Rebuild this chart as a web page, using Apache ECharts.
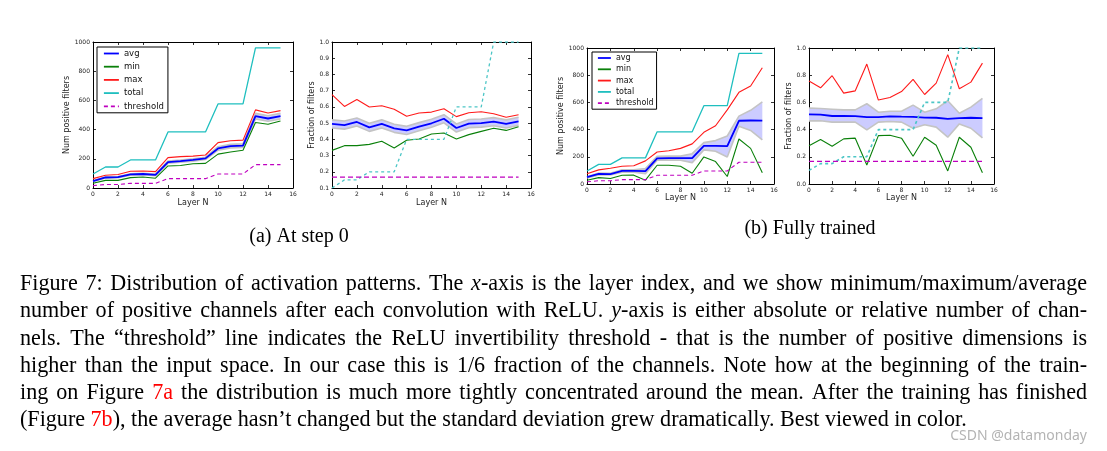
<!DOCTYPE html>
<html><head><meta charset="utf-8">
<script src="https://cdn.jsdelivr.net/npm/echarts@6/dist/echarts.min.js"></script>
<style>html,body{margin:0;padding:0;background:#fff;}#c{width:1107px;height:451px;}</style>
</head><body><div id="c"></div>
<script>
// ---------------- data ----------------
const layers = [0,1,2,3,4,5,6,7,8,9,10,11,12,13,14,15];
const legendNames = ['avg','min','max','total','threshold'];

// (a) at step 0, absolute
const aTotal  = [96,144,144,192,192,192,384,384,384,384,576,576,576,960,960,960];
const aThresh = [16,24,24,32,32,32,64,64,64,64,96,96,96,160,160,160];
const aAvg    = [47,72,74,93,96,90,177,184,192,203,271,287,290,492,476,492];
const aAvgLo  = [44,68,70,88,91,85,169,176,184,195,259,275,278,473,457,473];
const aAvgHi  = [50,76,78,98,101,95,185,192,200,211,283,299,302,511,495,511];
const aMin    = [32,52,52,71,75,67,151,154,166,169,232,247,259,449,437,459];
const aMax    = [64,87,92,115,116,112,208,215,218,226,311,324,328,535,514,530];

// (a) at step 0, fraction
const aFracAvg   = [0.495,0.488,0.507,0.474,0.495,0.468,0.455,0.478,0.499,0.527,0.470,0.497,0.500,0.509,0.495,0.511];
const aFracLo    = [0.470,0.463,0.482,0.449,0.470,0.443,0.430,0.453,0.474,0.502,0.445,0.472,0.475,0.484,0.470,0.486];
const aFracHi    = [0.520,0.513,0.532,0.499,0.520,0.493,0.480,0.503,0.524,0.552,0.495,0.522,0.525,0.534,0.520,0.536];
const aFracMax   = [0.675,0.603,0.645,0.599,0.607,0.585,0.542,0.562,0.568,0.589,0.540,0.564,0.570,0.558,0.536,0.552];
const aFracMin   = [0.332,0.361,0.361,0.369,0.388,0.347,0.394,0.402,0.433,0.439,0.402,0.429,0.449,0.468,0.455,0.478];
const aFracTotal = [0.10,0.15,0.15,0.20,0.20,0.20,0.40,0.40,0.40,0.40,0.60,0.60,0.60,1.00,1.00,1.00];
const aFracThr   = [0.167,0.167,0.167,0.167,0.167,0.167,0.167,0.167,0.167,0.167,0.167,0.167,0.167,0.167,0.167,0.167];

// (b) fully trained, absolute
const bTotal  = [96,144,144,192,192,192,384,384,384,384,576,576,576,960,960,960];
const bThresh = [16,24,24,32,32,32,64,64,64,64,96,96,96,160,160,160];
const bAvg    = [50,74,73,96,96,94,189,190,190,190,280,280,278,465,467,466];
const bAvgLo  = [45,67,66,87,87,76,175,177,175,157,251,241,198,424,394,325];
const bAvgHi  = [54,80,79,105,105,113,203,205,205,223,304,319,353,499,542,604];
const bMax    = [76,104,116,130,134,170,235,245,262,295,380,428,545,674,721,855];
const bMin    = [28,47,41,64,65,28,138,138,130,79,199,165,55,331,262,82];

// (b) fully trained, fraction
const bFracAvg   = [0.512,0.510,0.500,0.500,0.499,0.492,0.492,0.497,0.495,0.494,0.488,0.487,0.479,0.484,0.487,0.485];
const bFracLo    = [0.464,0.465,0.455,0.455,0.455,0.398,0.455,0.460,0.455,0.410,0.435,0.418,0.344,0.442,0.410,0.339];
const bFracHi    = [0.558,0.555,0.550,0.545,0.545,0.590,0.528,0.535,0.535,0.580,0.528,0.553,0.612,0.520,0.565,0.629];
const bFracMax   = [0.757,0.707,0.796,0.668,0.685,0.882,0.617,0.636,0.680,0.769,0.658,0.742,0.951,0.700,0.749,0.889];
const bFracMin   = [0.282,0.327,0.278,0.332,0.337,0.140,0.356,0.358,0.337,0.204,0.344,0.285,0.096,0.344,0.270,0.083];
const bFracTotal = [0.10,0.15,0.15,0.20,0.20,0.20,0.40,0.40,0.40,0.40,0.60,0.60,0.60,1.00,1.00,1.00];
const bFracThr   = [0.167,0.167,0.167,0.167,0.167,0.167,0.167,0.167,0.167,0.167,0.167,0.167,0.167,0.167,0.167,0.167];

const subCaptions = ['(a) At step 0', '(b) Fully trained'];
const captionLines = [
  'Figure 7: Distribution of activation patterns. The {i|x}-axis is the layer index, and we show minimum/maximum/average',
  'number of positive channels after each convolution with ReLU. {i|y}-axis is either absolute or relative number of chan-',
  'nels.  The \u201cthreshold\u201d line indicates the ReLU invertibility threshold - that is the number of positive dimensions is',
  'higher than the input space. In our case this is 1/6 fraction of the channels. Note how at the beginning of the train-',
  'ing on Figure {r|7a} the distribution is much more tightly concentrated around the mean. After the training has finished',
  '(Figure {r|7b}), the average hasn\u2019t changed but the standard deviation grew dramatically. Best viewed in color.'
];
const watermark = 'CSDN @datamonday';

// ---------------- styling ----------------
const SANS = "'DejaVu Sans', sans-serif";
const SERIF = "'Liberation Serif', 'Times New Roman', serif";
const C = {avg:'#0000ff', min:'#0a800a', max:'#ff1a1a', total:'#1fbfbf', thr:'#bf00bf', band:'#ccccff', edge:'#c4c4c4', totDash:'#4cc6c6'};

const grids = [
  {left:93,  top:42, width:200, height:146},
  {left:332, top:42, width:199, height:146},
  {left:587, top:48, width:187, height:136},
  {left:809, top:48, width:185, height:136}
];
const yCfg = [
  {min:0,   max:1000, interval:200, fmt:v=>String(Math.round(v)), name:'Num positive filters', gap:22},
  {min:0.1, max:1.0,  interval:0.1, fmt:v=>v.toFixed(1),          name:'Fraction of filters',  gap:16},
  {min:0,   max:1000, interval:200, fmt:v=>String(Math.round(v)), name:'Num positive filters', gap:20},
  {min:0,   max:1.0,  interval:0.2, fmt:v=>v.toFixed(1),          name:'Fraction of filters',  gap:15}
];
const xGap = [11, 11, 9, 9];

const xAxes = [], yAxes = [];
grids.forEach((g, i) => {
  const line = {show:true, onZero:false, lineStyle:{color:'#000', width:1}};
  const tick = {show:true, inside:true, length:3, lineStyle:{color:'#000', width:0.8}};
  xAxes.push({gridIndex:i, type:'value', position:'bottom', min:0, max:16, interval:2,
    axisLine:line, axisTick:tick, splitLine:{show:false},
    axisLabel:{fontSize:6, margin:3, color:'#222', fontFamily:SANS},
    name:'Layer N', nameLocation:'middle', nameGap:xGap[i],
    nameTextStyle:{fontSize:8, color:'#222', fontFamily:SANS}});
  xAxes.push({gridIndex:i, type:'value', position:'top', min:0, max:16, interval:2,
    axisLine:line, axisTick:tick, splitLine:{show:false}, axisLabel:{show:false}});
  const y = yCfg[i];
  yAxes.push({gridIndex:i, type:'value', position:'left', min:y.min, max:y.max, interval:y.interval,
    axisLine:line, axisTick:tick, splitLine:{show:false},
    axisLabel:{fontSize:6, margin:3, color:'#222', fontFamily:SANS, formatter:y.fmt},
    name:y.name, nameLocation:'middle', nameGap:y.gap,
    nameTextStyle:{fontSize:8, color:'#222', fontFamily:SANS}});
  yAxes.push({gridIndex:i, type:'value', position:'right', min:y.min, max:y.max, interval:y.interval,
    axisLine:line, axisTick:tick, splitLine:{show:false}, axisLabel:{show:false}});
});

function pts(vals){ return layers.map((x,i)=>[x, vals[i]]); }
function ln(g, name, vals, color, width, type, z){
  const s = {type:'line', xAxisIndex:2*g, yAxisIndex:2*g, data:pts(vals), symbol:'none',
    lineStyle:{color:color, width:width, type:type||'solid'}, itemStyle:{color:color},
    z:z||3, silent:true, animation:false};
  if (name) s.name = name;
  return s;
}
function band(g, lo, hi){
  return [
    {type:'custom', xAxisIndex:2*g, yAxisIndex:2*g, z:1, silent:true, animation:false,
      data:layers.map((x,i)=>[x, lo[i], hi[i]]), encode:{x:0, y:[1,2]},
      renderItem:function(params, api){
        if (params.dataIndex !== 0) return null;
        const top = layers.map((x,i)=>api.coord([x, hi[i]]));
        const bot = layers.map((x,i)=>api.coord([x, lo[i]])).reverse();
        return {type:'polygon', shape:{points:top.concat(bot)}, style:{fill:C.band, stroke:null}};
      }},
    ln(g, null, lo, C.edge, 1.6, 'solid', 2),
    ln(g, null, hi, C.edge, 1.6, 'solid', 2)
  ];
}

const series = [].concat(
  band(0, aAvgLo, aAvgHi),
  [ln(0,'avg',aAvg,C.avg,1.8), ln(0,'min',aMin,C.min,1.1), ln(0,'max',aMax,C.max,1.1),
   ln(0,'total',aTotal,C.total,1.3), ln(0,'threshold',aThresh,C.thr,1.1,[4,3])],
  band(1, aFracLo, aFracHi),
  [ln(1,'avg ',aFracAvg,C.avg,1.8), ln(1,'min ',aFracMin,C.min,1.1), ln(1,'max ',aFracMax,C.max,1.1),
   ln(1,'total ',aFracTotal,C.totDash,1.3,[3,3]), ln(1,'threshold ',aFracThr,C.thr,1.3,[5,3])],
  band(2, bAvgLo, bAvgHi),
  [ln(2,'avg',bAvg,C.avg,1.8), ln(2,'min',bMin,C.min,1.1), ln(2,'max',bMax,C.max,1.1),
   ln(2,'total',bTotal,C.total,1.3), ln(2,'threshold',bThresh,C.thr,1.1,[4,3])],
  band(3, bFracLo, bFracHi),
  [ln(3,'avg ',bFracAvg,C.avg,1.8), ln(3,'min ',bFracMin,C.min,1.1), ln(3,'max ',bFracMax,C.max,1.1),
   ln(3,'total ',bFracTotal,C.totDash,1.6,[3,3]), ln(3,'threshold ',bFracThr,C.thr,1.3,[5,3])]
);

const legendBase = {data:legendNames, orient:'vertical', selectedMode:false, borderColor:'#000', borderWidth:1,
  borderRadius:0, backgroundColor:'#fff', itemHeight:8, itemStyle:{opacity:0}, lineStyle:{width:1.8},
  textStyle:{fontSize:8.5, color:'#111', fontFamily:SANS}};
const legends = [
  Object.assign({}, legendBase, {left:97, top:47, itemWidth:15, itemGap:4.2, padding:[2,4,2,6]}),
  Object.assign({}, legendBase, {left:592, top:52, itemWidth:13, itemGap:3.3, padding:[2,3,2,5], textStyle:{fontSize:8, color:'#111', fontFamily:SANS}})
];

// ---------------- caption layout (justified) ----------------
const ctx = document.createElement('canvas').getContext('2d');
const L = 20, R = 1087, LINE0 = 284.5, LH = 27.1, LAST_END = 968;
function fontFor(k, fs){ return (k==='i' ? 'italic ' : '') + fs + 'px ' + SERIF; }
function parse(w){
  const segs = []; const re = /\{(\w)\|([^}]*)\}/g; let last = 0, m;
  while ((m = re.exec(w))) { if (m.index > last) segs.push({k:'n', t:w.slice(last, m.index)}); segs.push({k:m[1], t:m[2]}); last = re.lastIndex; }
  if (last < w.length) segs.push({k:'n', t:w.slice(last)});
  return segs;
}
function wWidth(w, fs){ return parse(w).reduce((s,g)=>{ ctx.font = fontFor(g.k, fs); return s + ctx.measureText(g.t).width; }, 0); }
// size the caption font so the (unjustified) last line ends where the reference's does
const lastWords = captionLines[captionLines.length-1].split(' ').filter(Boolean);
ctx.font = fontFor('n', 20);
const lastNat = lastWords.reduce((s,w)=>s + wWidth(w, 20), 0) + (lastWords.length-1)*ctx.measureText(' ').width;
const FS = Math.round(20 * (LAST_END - L) / lastNat * 10) / 10;
ctx.font = fontFor('n', FS);
const spaceW = ctx.measureText(' ').width;
const rich = {
  i:{fontStyle:'italic', fontSize:FS, fontFamily:SERIF, fill:'#000'},
  r:{fontSize:FS, fontFamily:SERIF, fill:'#ff0000'}
};
const graphics = [];
captionLines.forEach((line, li) => {
  const words = line.split(' ').filter(Boolean);
  const ws = words.map(w=>wWidth(w, FS));
  const total = ws.reduce((a,b)=>a+b, 0);
  const last = li === captionLines.length - 1;
  const gap = last ? spaceW : (R - L - total) / (words.length - 1);
  let x = L;
  words.forEach((w, k) => {
    graphics.push({type:'text', x:x, y:LINE0 + li*LH, silent:true,
      style:{text:w, fontSize:FS, fontFamily:SERIF, fill:'#000', verticalAlign:'middle', align:'left', rich:rich}});
    x += ws[k] + gap;
  });
});
graphics.push({type:'text', x:299, y:237, silent:true,
  style:{text:subCaptions[0], fontSize:20, fontFamily:SERIF, fill:'#000', align:'center', verticalAlign:'middle'}});
graphics.push({type:'text', x:810, y:229, silent:true,
  style:{text:subCaptions[1], fontSize:20, fontFamily:SERIF, fill:'#000', align:'center', verticalAlign:'middle'}});
graphics.push({type:'text', x:1087, y:436, silent:true,
  style:{text:watermark, fontSize:14, fontFamily:"'Noto Sans', sans-serif", fill:'#b4b4b4', align:'right', verticalAlign:'middle'}});

const chart = echarts.init(document.getElementById('c'), null, {renderer:'canvas'});
chart.setOption({
  backgroundColor:'#ffffff',
  animation:false,
  grid:grids,
  xAxis:xAxes,
  yAxis:yAxes,
  legend:legends,
  series:series,
  graphic:graphics
});
</script></body></html>
